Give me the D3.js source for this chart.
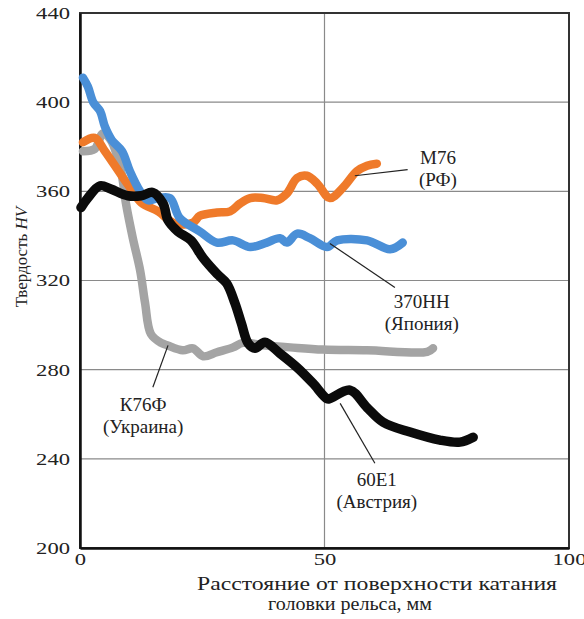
<!DOCTYPE html>
<html>
<head>
<meta charset="utf-8">
<script src="https://cdn.jsdelivr.net/npm/d3@7"></script>
<style>
  body { margin: 0; background: #fff; }
  text { font-family: "Liberation Serif", "DejaVu Serif", serif; fill: #222; }
</style>
</head>
<body>
<div id="chart"></div>
<script>
// distance from the running surface, mm  /  hardness HV
const blueX  = [0.6, 1.6, 2.7, 4.1, 5.1, 6.5, 8.6, 10.2, 12.3, 13.9, 16, 18.4, 20.4, 24.5, 28, 31.3, 34.8, 38.2, 40.9, 42.3, 44.4, 47, 50.5, 52.6, 58.7, 63.4, 66];
const blueY  = [411, 407, 400, 396, 389, 383, 378, 369, 360, 356, 357, 357, 348, 342, 337, 338, 335, 337, 339, 337, 341, 339, 335, 338, 338, 334, 337];

const orangeX = [0.6, 3, 5.1, 9.8, 12.5, 16, 19.4, 23.1, 24.5, 28, 30.7, 32.7, 34.8, 37.4, 40.3, 42.3, 44.4, 46.4, 48.5, 51.1, 53.8, 56.6, 58.7, 60.7];
const orangeY = [382, 384, 378, 363, 355, 351, 345.5, 346, 349, 350.5, 351, 354.5, 357, 357, 356, 359, 366, 367, 363.5, 357, 361.7, 369, 371.5, 372.4];

const grayX = [0.6, 3, 4.7, 6.3, 8.4, 9.4, 10.8, 12.3, 13.3, 14.5, 16.6, 17.8, 21, 23.1, 25.2, 28, 31.3, 33.3, 37.4, 43, 49.7, 58.7, 71, 72.2];
const grayY = [378, 379, 386, 383, 369, 354.5, 339, 324.5, 310, 296, 292, 291, 288.7, 289.6, 286, 287.8, 290, 292, 291, 290, 289, 288.7, 288, 289.6];

const blackX = [0.2, 1.6, 4.1, 6.3, 9.8, 12.5, 14.9, 17, 18, 20, 22.7, 25.2, 28, 30, 31.7, 33, 34.4, 35.8, 37.8, 40.9, 44.4, 47.6, 50.5, 51.1, 55.2, 58.7, 62, 67.5, 73.6, 77.7, 80.4];
const blackY = [352.7, 357, 362.5, 361, 358, 358, 359.5, 354.5, 347, 342, 338, 330, 323, 318.7, 309.7, 300.8, 291.8, 289.6, 292.3, 287.3, 281, 274, 267, 267, 270.8, 263, 256.4, 252, 248.4, 247.5, 249.7];

const xTicks = [0, 50, 100];
const yTicks = [200, 240, 280, 320, 360, 400, 440];

const series = [
  { name: "gray",   xs: grayX,   ys: grayY,   color: "#a4a4a4" },
  { name: "orange", xs: orangeX, ys: orangeY, color: "#ef7a2a" },
  { name: "blue",   xs: blueX,   ys: blueY,   color: "#4a8fd7" },
  { name: "black",  xs: blackX,  ys: blackY,  color: "#0b0b0b" }
];

const width = 584,
      height = 619,
      margin = ({ top: 13, right: 15, bottom: 71, left: 80 });

let svg = d3.select("#chart")
    .append("svg")
    .attr("width", width)
    .attr("height", height);

let x = d3.scaleLinear()
    .domain([0, 100])
    .range([margin.left, width - margin.right]);

let y = d3.scaleLinear()
    .domain([200, 440])
    .range([height - margin.bottom, margin.top]);

// grid
svg.append("g")
    .selectAll("line")
    .data(yTicks.slice(1, -1))
    .join("line")
    .attr("x1", x(0)).attr("x2", x(100))
    .attr("y1", d => y(d)).attr("y2", d => y(d))
    .attr("stroke", "#8a8a8a")
    .attr("stroke-width", 1.2);

svg.append("line")
    .attr("x1", x(50)).attr("x2", x(50))
    .attr("y1", y(200)).attr("y2", y(440))
    .attr("stroke", "#8a8a8a")
    .attr("stroke-width", 1.2);

// frame
svg.append("rect")
    .attr("x", x(0)).attr("y", y(440))
    .attr("width", x(100) - x(0))
    .attr("height", y(200) - y(440))
    .attr("fill", "none")
    .attr("stroke", "#333")
    .attr("stroke-width", 2);

// axes (labels are a bit wide in the original, stretch them)
let yAxis = svg.append("g")
    .attr("transform", `translate(${margin.left},0)`)
    .call(d3.axisLeft(y).tickValues(yTicks).tickSize(0).tickPadding(10));
yAxis.select(".domain").attr("stroke", "#111").attr("stroke-width", 2.5);
yAxis.selectAll("text")
    .style("font-size", "17px")
    .style("font-family", "Liberation Serif, serif")
    .attr("fill", "#222")
    .attr("textLength", d => String(d).length * 11.3)
    .attr("lengthAdjust", "spacingAndGlyphs");

let xAxis = svg.append("g")
    .attr("transform", `translate(0,${height - margin.bottom})`)
    .call(d3.axisBottom(x).tickValues(xTicks).tickSize(0).tickPadding(5));
xAxis.select(".domain").attr("stroke", "#111").attr("stroke-width", 2.5);
xAxis.selectAll("text")
    .style("font-size", "17px")
    .style("font-family", "Liberation Serif, serif")
    .attr("fill", "#222")
    .attr("textLength", d => String(d).length * 11.3)
    .attr("lengthAdjust", "spacingAndGlyphs");

// lines
let line = d3.line()
    .x(d => x(d[0]))
    .y(d => y(d[1]))
    .curve(d3.curveCatmullRom.alpha(0.5));

svg.append("g")
    .selectAll("path")
    .data(series)
    .join("path")
    .attr("d", s => line(s.xs.map((v, i) => [v, s.ys[i]])))
    .attr("fill", "none")
    .attr("stroke", s => s.color)
    .attr("stroke-width", s => s.name === "black" ? 9.5 : 8.5)
    .attr("stroke-linecap", "round")
    .attr("stroke-linejoin", "round");

// annotations: label text + leader lines (in data units)
const labels = [
  { lines: ["М76", "(РФ)"],         at: [73.2, 372.4], from: [56.2, 367], to: [67, 369.7] },
  { lines: ["370НН", "(Япония)"],   at: [69.9, 307.5], from: [51.1, 336.6], to: [64.4, 316.9] },
  { lines: ["К76Ф", "(Украина)"],   at: [12.9, 261.4], from: [18, 290.9], to: [14.9, 272.1] },
  { lines: ["60Е1", "(Австрия)"],   at: [60.7, 227.8], from: [53.2, 264.9], to: [60.3, 238] }
];

let ann = svg.append("g");
ann.selectAll("line")
    .data(labels)
    .join("line")
    .attr("x1", d => x(d.from[0])).attr("y1", d => y(d.from[1]))
    .attr("x2", d => x(d.to[0])).attr("y2", d => y(d.to[1]))
    .attr("stroke", "#222")
    .attr("stroke-width", 1.2);

ann.selectAll("text")
    .data(labels)
    .join("text")
    .attr("x", d => x(d.at[0]))
    .attr("y", d => y(d.at[1]))
    .attr("text-anchor", "middle")
    .style("font-size", "19px")
    .selectAll("tspan")
    .data(d => d.lines.map(t => ({ t, px: x(d.at[0]) })))
    .join("tspan")
    .attr("x", d => d.px)
    .attr("dy", (d, i) => i === 0 ? 0 : 22)
    .text(d => d.t);

// axis titles
let yt = svg.append("text")
    .attr("transform", "translate(27,257) rotate(-90)")
    .attr("text-anchor", "middle")
    .style("font-size", "17px");
yt.append("tspan").text("Твердость ");
yt.append("tspan").style("font-style", "italic").text("HV");

svg.append("text")
    .attr("x", 197)
    .attr("y", 590)
    .attr("textLength", 360)
    .attr("lengthAdjust", "spacingAndGlyphs")
    .style("font-size", "18px")
    .text("Расстояние от поверхности катания");

svg.append("text")
    .attr("x", 268)
    .attr("y", 610)
    .attr("textLength", 164)
    .attr("lengthAdjust", "spacingAndGlyphs")
    .style("font-size", "18px")
    .text("головки рельса, мм");
</script>
</body>
</html>
